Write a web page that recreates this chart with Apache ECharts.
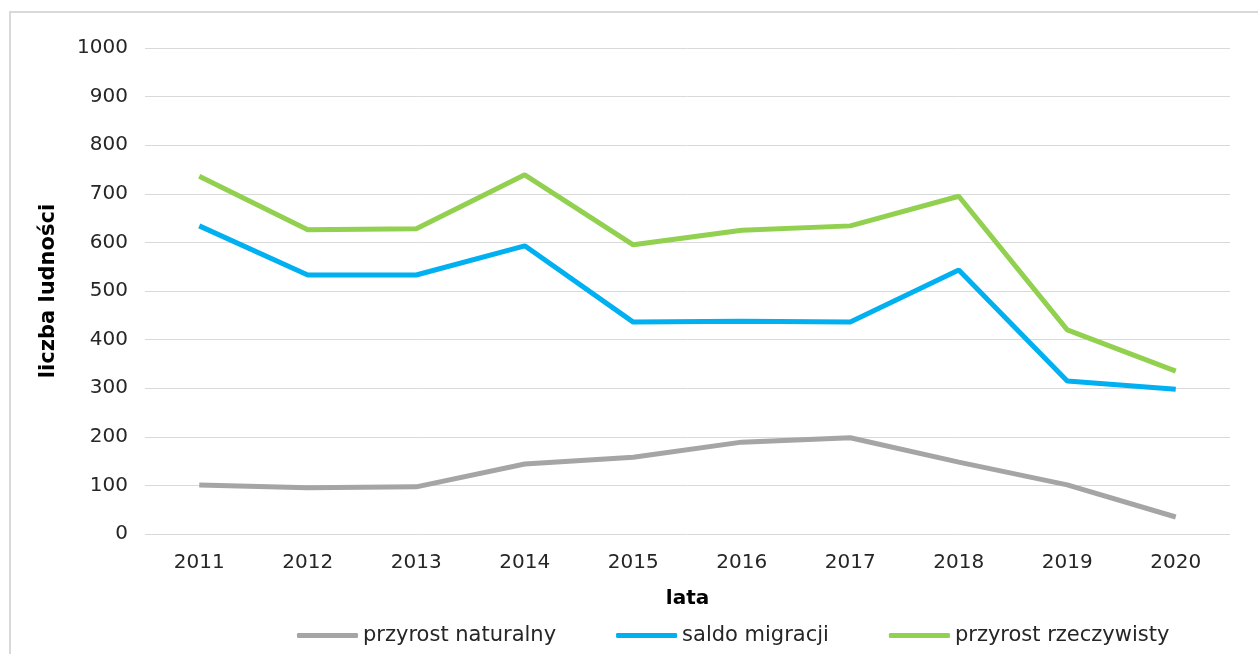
<!DOCTYPE html>
<html>
<head>
<meta charset="utf-8">
<script src="https://cdn.jsdelivr.net/npm/echarts@6/dist/echarts.min.js"></script>
<style>
  html, body { margin: 0; padding: 0; background: #fff; }
  #chart { width: 1258px; height: 654px; }
</style>
</head>
<body>
<div id="chart"></div>
<script>
const years = ['2011', '2012', '2013', '2014', '2015', '2016', '2017', '2018', '2019', '2020']
const przyrostNaturalny = [101, 95, 97, 144, 158, 189, 198, 148, 101, 35]
const saldoMigracji = [634, 533, 533, 593, 436, 438, 436, 543, 315, 298]
const przyrostRzeczywisty = [736, 626, 628, 739, 595, 625, 634, 695, 420, 335]

const font = 'DejaVu Sans'
const chart = echarts.init(document.getElementById('chart'))

chart.setOption({
  animation: false,
  textStyle: { fontFamily: font },
  graphic: [
    {
      type: 'rect',
      shape: { x: 10, y: 12, width: 1270, height: 680 },
      style: { fill: 'none', stroke: '#d9d9d9', lineWidth: 2 },
      silent: true
    }
  ],
  grid: { left: 145, right: 28, top: 48, bottom: 120 },
  legend: {
    left: 292,
    top: 620,
    itemWidth: 61,
    itemHeight: 5,
    itemGap: 60,
    icon: 'roundRect',
    textStyle: { fontFamily: font, fontSize: 21, color: '#262626' },
    data: ['przyrost naturalny', 'saldo migracji', 'przyrost rzeczywisty']
  },
  xAxis: {
    type: 'category',
    data: years,
    name: 'lata',
    nameLocation: 'middle',
    nameGap: 55,
    nameTextStyle: { fontWeight: 'bold', fontSize: 20, color: '#000' },
    axisLine: { show: false },
    axisTick: { show: false },
    axisLabel: { fontSize: 20, color: '#262626', margin: 19 }
  },
  yAxis: {
    type: 'value',
    min: 0,
    max: 1000,
    interval: 100,
    name: 'liczba ludności',
    nameLocation: 'middle',
    nameGap: 86,
    nameTextStyle: { fontWeight: 'bold', fontSize: 21, color: '#000' },
    axisLine: { show: false },
    axisTick: { show: false },
    axisLabel: { fontSize: 20, color: '#262626', margin: 17, formatter: (v) => String(v) },
    splitLine: { lineStyle: { color: '#d9d9d9', width: 1 } }
  },
  series: [
    {
      name: 'przyrost naturalny',
      type: 'line',
      data: przyrostNaturalny,
      symbol: 'none',
      lineStyle: { color: '#a5a5a5', width: 5 },
      itemStyle: { color: '#a5a5a5' }
    },
    {
      name: 'saldo migracji',
      type: 'line',
      data: saldoMigracji,
      symbol: 'none',
      lineStyle: { color: '#00b0f0', width: 5 },
      itemStyle: { color: '#00b0f0' }
    },
    {
      name: 'przyrost rzeczywisty',
      type: 'line',
      data: przyrostRzeczywisty,
      symbol: 'none',
      lineStyle: { color: '#92d050', width: 5 },
      itemStyle: { color: '#92d050' }
    }
  ]
})
</script>
</body>
</html>
